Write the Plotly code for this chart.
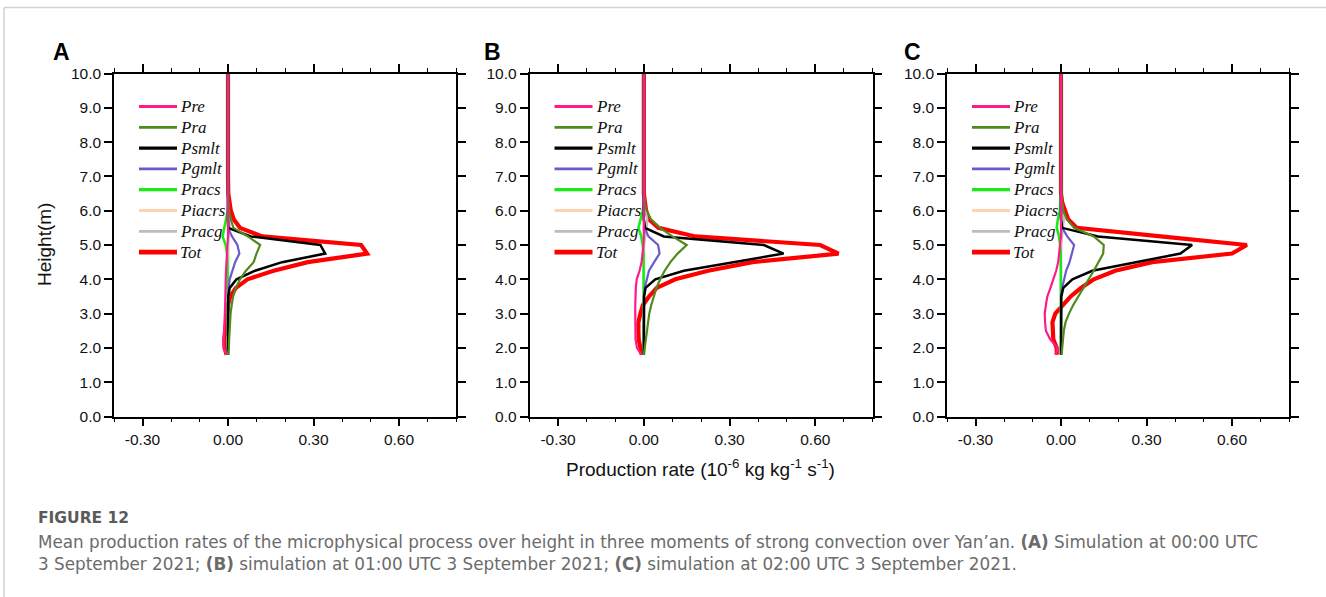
import plotly.graph_objects as go

# ---------------- data ----------------
HEIGHT = [1.8, 2.0, 2.25, 2.5, 2.75, 3.0, 3.25, 3.5, 3.75, 4.0, 4.25, 4.5,
          4.75, 5.0, 5.25, 5.5, 5.75, 6.0, 6.25, 6.5, 7.0, 8.0, 9.0, 10.0]

SERIES = ["Pre", "Pra", "Psmlt", "Pgmlt", "Pracs", "Piacrs", "Pracg", "Tot"]
COLORS = ["#ff1a8c", "#4f8a1c", "#000000", "#6a5acd", "#19eb19", "#ffd2b0", "#bdbdbd", "#ff0000"]
WIDTHS = [2.2, 2.2, 2.5, 2.2, 2.6, 2.2, 2.2, 4.2]

# Panel A (00:00 UTC)
A_PRE    = [-0.005, -0.015, -0.015, -0.013, -0.012, -0.011, -0.010, -0.010, -0.009, -0.008, -0.007, -0.005,
            -0.003, -0.001, 0, 0, 0, 0, 0, 0, 0, 0, 0, 0]
A_PRA    = [0.0, 0.003, 0.004, 0.005, 0.007, 0.009, 0.013, 0.018, 0.028, 0.042, 0.063, 0.090,
            0.100, 0.113, 0.070, 0.019, 0.010, 0.004, 0.001, 0, 0, 0, 0, 0]
A_PSMLT  = [0, 0, 0, 0, 0, 0, 0, 0.001, 0.006, 0.030, 0.095, 0.190,
            0.341, 0.324, 0.080, 0.001, 0, 0, 0, 0, 0, 0, 0, 0]
A_PGMLT  = [0, 0, 0, 0, 0, 0, 0, 0, 0.002, 0.006, 0.015, 0.025,
            0.040, 0.033, 0.014, 0.0, 0, 0, 0, 0, 0, 0, 0, 0]
A_PRACS  = [0, 0, 0, 0, 0, 0, 0, -0.001, -0.002, -0.002, -0.002, -0.002,
            -0.003, -0.008, -0.019, -0.013, -0.006, -0.001, 0, 0, 0, 0, 0, 0]
A_PIACRS = [0, 0, 0, 0, 0, 0, 0, 0, 0, 0, 0, 0,
            0, 0, 0, 0.001, 0.001, 0, 0, 0, 0, 0, 0, 0]
A_PRACG  = [0, 0, 0, 0, 0, 0, 0, 0, 0, 0, 0, 0,
            0, 0.001, 0.003, 0.006, 0.005, 0.002, 0, 0, 0, 0, 0, 0]
A_TOT    = [-0.005, -0.012, -0.013, -0.010, -0.008, -0.005, 0.0, 0.008, 0.028, 0.068, 0.160, 0.280,
            0.488, 0.467, 0.120, 0.042, 0.020, 0.010, 0.004, 0.001, 0, 0, 0, 0]

# Panel B (01:00 UTC)
B_PRE    = [-0.009, -0.024, -0.029, -0.030, -0.030, -0.030, -0.030, -0.030, -0.028, -0.025, -0.015, -0.008,
            -0.004, -0.001, 0, 0, 0, 0, 0, 0, 0, 0, 0, 0]
B_PRA    = [0.0, 0.003, 0.006, 0.009, 0.013, 0.019, 0.026, 0.034, 0.044, 0.057, 0.073, 0.093,
            0.118, 0.150, 0.100, 0.057, 0.025, 0.010, 0.003, 0, 0, 0, 0, 0]
B_PSMLT  = [0, 0, 0, 0, 0, 0, 0, 0.001, 0.006, 0.040, 0.140, 0.310,
            0.489, 0.420, 0.070, 0.004, 0, 0, 0, 0, 0, 0, 0, 0]
B_PGMLT  = [0, 0, 0, 0, 0, 0, 0, 0, 0.003, 0.010, 0.018, 0.036,
            0.055, 0.050, 0.016, 0.003, 0, 0, 0, 0, 0, 0, 0, 0]
B_PRACS  = [0, 0, 0, 0, 0, 0, 0, 0, 0, 0, 0, 0,
            -0.001, -0.004, -0.009, -0.019, -0.012, -0.004, 0, 0, 0, 0, 0, 0]
B_PIACRS = [0, 0, 0, 0, 0, 0, 0, 0, 0, 0, 0, 0,
            0, 0, 0.001, 0.002, 0.002, 0.001, 0, 0, 0, 0, 0, 0]
B_PRACG  = [0, 0, 0, 0, 0, 0, 0, 0, 0, 0, 0, 0,
            0, 0.001, 0.005, 0.010, 0.012, 0.006, 0.002, 0, 0, 0, 0, 0]
B_TOT    = [-0.007, -0.013, -0.018, -0.019, -0.019, -0.012, -0.003, 0.018, 0.045, 0.110, 0.225, 0.380,
            0.681, 0.617, 0.180, 0.051, 0.018, 0.008, 0.003, 0, 0, 0, 0, 0]

# Panel C (02:00 UTC)
C_PRE    = [-0.019, -0.012, -0.038, -0.053, -0.056, -0.057, -0.053, -0.048, -0.037, -0.027, -0.017, -0.010,
            -0.006, -0.002, 0, 0, 0, 0, 0, 0, 0, 0, 0, 0]
C_PRA    = [0.002, 0.004, 0.007, 0.010, 0.016, 0.028, 0.043, 0.062, 0.080, 0.097, 0.115, 0.132,
            0.148, 0.150, 0.115, 0.046, 0.020, 0.008, 0.003, 0.001, 0, 0, 0, 0]
C_PSMLT  = [0, 0, 0, 0, 0, 0, 0, 0.001, 0.008, 0.040, 0.110, 0.260,
            0.419, 0.460, 0.130, 0.004, 0, 0, 0, 0, 0, 0, 0, 0]
C_PGMLT  = [0, 0, 0, 0, 0, 0, 0, 0, 0.004, 0.011, 0.018, 0.030,
            0.038, 0.046, 0.022, 0.004, 0, 0, 0, 0, 0, 0, 0, 0]
C_PRACS  = [0, 0, 0, 0, 0, 0, 0, 0, 0, 0, 0, 0,
            -0.001, -0.003, -0.007, -0.015, -0.011, -0.004, -0.001, 0, 0, 0, 0, 0]
C_PIACRS = [0, 0, 0, 0, 0, 0, 0, 0, 0, 0, 0, 0,
            0, 0, 0.001, 0.002, 0.002, 0.001, 0, 0, 0, 0, 0, 0]
C_PRACG  = [0, 0, 0, 0, 0, 0, 0, 0, 0, 0, 0, 0,
            0, 0.001, 0.004, 0.008, 0.010, 0.006, 0.002, 0, 0, 0, 0, 0]
C_TOT    = [-0.015, -0.015, -0.027, -0.030, -0.030, -0.020, 0.005, 0.034, 0.070, 0.115, 0.190, 0.320,
            0.600, 0.652, 0.350, 0.055, 0.025, 0.013, 0.004, 0, 0, 0, 0, 0]

PANELS = ["A", "B", "C"]
PANEL_DATA = {
    "A": [A_PRE, A_PRA, A_PSMLT, A_PGMLT, A_PRACS, A_PIACRS, A_PRACG, A_TOT],
    "B": [B_PRE, B_PRA, B_PSMLT, B_PGMLT, B_PRACS, B_PIACRS, B_PRACG, B_TOT],
    "C": [C_PRE, C_PRA, C_PSMLT, C_PGMLT, C_PRACS, C_PIACRS, C_PRACG, C_TOT],
}

X_TICKS = [-0.3, 0.0, 0.3, 0.6]
X_TICK_LABELS = ["-0.30", "0.00", "0.30", "0.60"]
Y_TICKS = [0, 1, 2, 3, 4, 5, 6, 7, 8, 9, 10]
Y_TICK_LABELS = ["%.1f" % v for v in Y_TICKS]

# ---------------- layout geometry (pixels) ----------------
W, H = 1326, 597
def px_x(p): return p / W
def px_y(p): return 1 - p / H

X_DOMAINS = [(114, 456), (529.5, 872.5), (947, 1289)]
Y_TOP, Y_BOT = 73.5, 416.5
LEG_DX, LEG_LEN, LEG_Y0, LEG_DY = 25, 38, 106.5, 20.8

fig = go.Figure()

for i, p in enumerate(PANELS):
    sfx = "" if i == 0 else str(i + 1)
    vals = PANEL_DATA[p]
    for k in reversed(range(len(SERIES))):   # Pre drawn last (on top)
        fig.add_trace(go.Scatter(
            x=vals[k], y=HEIGHT, mode="lines", name=SERIES[k],
            line=dict(color=COLORS[k], width=WIDTHS[k]),
            xaxis="x" + sfx, yaxis="y" + sfx, showlegend=False,
        ))

axis_font = dict(family="Liberation Sans, Arial, sans-serif", size=15.5, color="#111111")
layout = dict(
    width=W, height=H,
    margin=dict(l=0, r=0, t=0, b=0, pad=0, autoexpand=False),
    paper_bgcolor="white", plot_bgcolor="white",
    showlegend=False,
)
for i, p in enumerate(PANELS):
    sfx = "" if i == 0 else str(i + 1)
    x0, x1 = X_DOMAINS[i]
    layout["xaxis" + sfx] = dict(
        domain=[px_x(x0), px_x(x1)], range=[-0.4, 0.8], anchor="y" + sfx,
        tickmode="array", tickvals=X_TICKS, ticktext=X_TICK_LABELS,
        ticks="outside", ticklen=8, tickwidth=1.6, tickcolor="black",
        minor=dict(tickmode="linear", tick0=0, dtick=0.1, ticks="outside", ticklen=4,
                   tickwidth=1.4, tickcolor="black", showgrid=False),
        showline=True, linecolor="black", linewidth=1.6, mirror="ticks",
        showgrid=False, zeroline=False, tickfont=axis_font, fixedrange=True,
        automargin=False,
    )
    layout["yaxis" + sfx] = dict(
        domain=[px_y(Y_BOT), px_y(Y_TOP)], range=[0, 10], anchor="x" + sfx,
        tickmode="array", tickvals=Y_TICKS, ticktext=Y_TICK_LABELS,
        ticks="outside", ticklen=8, tickwidth=1.6, tickcolor="black",
        showline=True, linecolor="black", linewidth=1.6, mirror="ticks",
        showgrid=False, zeroline=False, tickfont=axis_font, fixedrange=True,
        automargin=False,
    )
fig.update_layout(**layout)

annotations = []
shapes = []
# per-panel legends (line sample + italic serif label)
for i, p in enumerate(PANELS):
    lx0 = X_DOMAINS[i][0] + LEG_DX
    lx1 = lx0 + LEG_LEN
    for k, name in enumerate(SERIES):
        yy = LEG_Y0 + LEG_DY * k
        shapes.append(dict(type="line", xref="paper", yref="paper",
                           x0=px_x(lx0), x1=px_x(lx1), y0=px_y(yy), y1=px_y(yy),
                           line=dict(color=COLORS[k], width=WIDTHS[k] + 0.6)))
        annotations.append(dict(
            text="<i>%s</i>" % name, x=px_x(lx1 + 1), y=px_y(yy), xref="paper", yref="paper",
            xanchor="left", yanchor="middle", showarrow=False,
            font=dict(family="Liberation Serif, Times New Roman, serif", size=17, color="#111111"),
        ))

for i, p in enumerate(PANELS):
    cx = [61, 492, 912][i]
    annotations.append(dict(
        text="<b>%s</b>" % p, x=px_x(cx), y=px_y(52), xref="paper", yref="paper",
        xanchor="center", yanchor="middle", showarrow=False,
        font=dict(family="Liberation Sans, Arial, sans-serif", size=23, color="black"),
    ))
annotations.append(dict(
    text="Height(m)", x=px_x(45), y=px_y(245), xref="paper", yref="paper",
    xanchor="center", yanchor="middle", showarrow=False, textangle=-90,
    font=dict(family="Liberation Sans, Arial, sans-serif", size=19, color="#111111"),
))
annotations.append(dict(
    text="Production rate (10<sup>-6</sup> kg kg<sup>-1</sup> s<sup>-1</sup>)",
    x=px_x(700), y=px_y(468), xref="paper", yref="paper",
    xanchor="center", yanchor="middle", showarrow=False,
    font=dict(family="Liberation Sans, Arial, sans-serif", size=19, color="#111111"),
))
annotations.append(dict(
    text="<b>FIGURE 12</b>", x=px_x(36), y=px_y(518), xref="paper", yref="paper",
    xanchor="left", yanchor="middle", showarrow=False,
    font=dict(family="DejaVu Sans, sans-serif", size=15.5, color="#5a5a5a"),
))
annotations.append(dict(
    text="Mean production rates of the microphysical process over height in three moments of strong "
         "convection over Yan’an. <b>(A)</b> Simulation at 00:00 UTC",
    x=px_x(36), y=px_y(541.5), xref="paper", yref="paper",
    xanchor="left", yanchor="middle", showarrow=False,
    font=dict(family="DejaVu Sans, sans-serif", size=16.8, color="#6b6b6b"),
))
annotations.append(dict(
    text="3 September 2021; <b>(B)</b> simulation at 01:00 UTC 3 September 2021; "
         "<b>(C)</b> simulation at 02:00 UTC 3 September 2021.",
    x=px_x(36), y=px_y(563.5), xref="paper", yref="paper",
    xanchor="left", yanchor="middle", showarrow=False,
    font=dict(family="DejaVu Sans, sans-serif", size=16.8, color="#6b6b6b"),
))

shapes += [
    dict(type="line", xref="paper", yref="paper", x0=px_x(4), x1=1, y0=px_y(7.5), y1=px_y(7.5),
         line=dict(color="#d2d2d2", width=1.5)),
    dict(type="line", xref="paper", yref="paper", x0=px_x(4), x1=px_x(4), y0=0, y1=px_y(7.5),
         line=dict(color="#d2d2d2", width=1.5)),
]
fig.update_layout(annotations=annotations, shapes=shapes)

# remove the browser's default 8px body margin so the figure sits at the window origin
fig.write_html("out.html", config={"displayModeBar": False},
               post_script="document.body.style.margin='0';")
